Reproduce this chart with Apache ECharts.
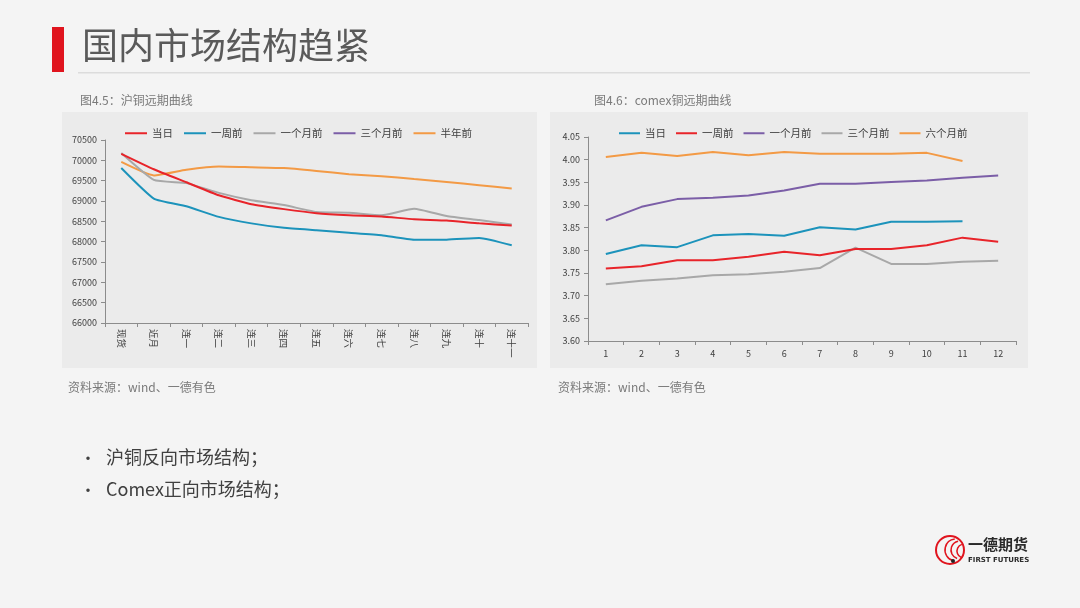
<!DOCTYPE html>
<html>
<head>
<meta charset="utf-8">
<script src="https://cdn.jsdelivr.net/npm/echarts@6/dist/echarts.min.js"></script>
<style>
  html, body { margin: 0; padding: 0; background: #f4f4f4; }
  #main { width: 1080px; height: 608px; }
</style>
</head>
<body>
<div id="main"></div>
<script>
// 沪铜远期曲线
var shCats = ['现货', '近月', '连一', '连二', '连三', '连四', '连五', '连六', '连七', '连八', '连九', '连十', '连十一'];
var shToday = [70160, 69780, 69460, 69140, 68920, 68800, 68700, 68650, 68620, 68550, 68520, 68450, 68400];
var shWeek = [69810, 69060, 68870, 68610, 68450, 68340, 68280, 68220, 68160, 68050, 68050, 68090, 67910];
var shMonth = [70180, 69520, 69440, 69200, 69020, 68900, 68730, 68710, 68650, 68810, 68630, 68530, 68420];
var shQuarter = [];
var shHalf = [69960, 69630, 69770, 69850, 69830, 69810, 69740, 69660, 69610, 69540, 69470, 69390, 69310];

// comex铜远期曲线
var cmCats = ['1', '2', '3', '4', '5', '6', '7', '8', '9', '10', '11', '12'];
var cmToday = [3.792, 3.811, 3.807, 3.833, 3.836, 3.832, 3.851, 3.846, 3.863, 3.863, 3.864];
var cmWeek = [3.760, 3.765, 3.778, 3.778, 3.786, 3.797, 3.789, 3.803, 3.803, 3.811, 3.828, 3.819];
var cmMonth = [3.866, 3.896, 3.913, 3.916, 3.921, 3.932, 3.947, 3.947, 3.951, 3.954, 3.960, 3.965];
var cmQuarter = [3.725, 3.733, 3.738, 3.745, 3.747, 3.753, 3.761, 3.806, 3.770, 3.770, 3.775, 3.777];
var cmHalf = [4.006, 4.015, 4.008, 4.017, 4.010, 4.017, 4.013, 4.013, 4.013, 4.015, 3.997];

var RED = '#e8242a', BLUE = '#1c93bb', GRAY = '#a8a8a8', PURPLE = '#7b5ea7', ORANGE = '#f39a45';
var FONT = '"Microsoft YaHei", "Noto Sans CJK SC", sans-serif';

var myChart = echarts.init(document.getElementById('main'));

function line(name, data, color, gi, smooth) {
    return {
        name: name,
        type: 'line',
        xAxisIndex: gi,
        yAxisIndex: gi,
        data: data,
        smooth: smooth,
        symbol: 'none',
        lineStyle: { color: color, width: 2 },
        itemStyle: { color: color },
        z: 3
    };
}

var axisLine = { show: true, lineStyle: { color: '#8c8c8c', width: 1 } };
var axisTick = { show: true, length: 4, lineStyle: { color: '#8c8c8c' } };

myChart.setOption({
    backgroundColor: '#f4f4f4',
    animation: false,
    textStyle: { fontFamily: FONT },
    graphic: [
        // 标题
        { type: 'rect', shape: { x: 52, y: 27, width: 12, height: 45 }, style: { fill: '#e0141e' } },
        { type: 'text', left: 82, top: 27, style: { text: '国内市场结构趋紧', font: '36px ' + FONT, fill: '#5a5a5a' } },
        { type: 'rect', shape: { x: 78, y: 72, width: 952, height: 1.5 }, style: { fill: '#dcdcdc' } },
        // 图表背景
        { type: 'rect', z: -10, shape: { x: 62, y: 112, width: 475, height: 256 }, style: { fill: '#ebebeb' } },
        { type: 'rect', z: -10, shape: { x: 550, y: 112, width: 478, height: 256 }, style: { fill: '#ebebeb' } },
        { type: 'text', left: 80, top: 94, style: { text: '图4.5：沪铜远期曲线', font: '12px ' + FONT, fill: '#7a7a7a' } },
        { type: 'text', left: 594, top: 94, style: { text: '图4.6：comex铜远期曲线', font: '12px ' + FONT, fill: '#7a7a7a' } },
        { type: 'text', left: 68, top: 381, style: { text: '资料来源：wind、一德有色', font: '12px ' + FONT, fill: '#7a7a7a' } },
        { type: 'text', left: 558, top: 381, style: { text: '资料来源：wind、一德有色', font: '12px ' + FONT, fill: '#7a7a7a' } },
        // 要点
        { type: 'text', left: 80, top: 450, style: { text: '•', font: '16px ' + FONT, fill: '#404040' } },
        { type: 'text', left: 106, top: 448, style: { text: '沪铜反向市场结构；', font: '18px ' + FONT, fill: '#404040' } },
        { type: 'text', left: 80, top: 482, style: { text: '•', font: '16px ' + FONT, fill: '#404040' } },
        { type: 'text', left: 106, top: 480, style: { text: 'Comex正向市场结构；', font: '18px ' + FONT, fill: '#404040' } },
        // logo
        { type: 'circle', shape: { cx: 950, cy: 550, r: 14 }, style: { fill: 'none', stroke: '#e0141e', lineWidth: 2 } },
        { type: 'arc', shape: { cx: 956, cy: 550, r: 11, startAngle: 1.8, endAngle: 4.6 }, style: { fill: 'none', stroke: '#e0141e', lineWidth: 1.5 } },
        { type: 'arc', shape: { cx: 960, cy: 550, r: 9, startAngle: 1.9, endAngle: 4.5 }, style: { fill: 'none', stroke: '#e0141e', lineWidth: 1.5 } },
        { type: 'arc', shape: { cx: 964, cy: 551, r: 7, startAngle: 2.0, endAngle: 4.4 }, style: { fill: 'none', stroke: '#e0141e', lineWidth: 1.5 } },
        { type: 'circle', shape: { cx: 953, cy: 561, r: 2 }, style: { fill: '#222' } },
        { type: 'text', left: 968, top: 537, style: { text: '一德期货', font: 'bold 15px ' + FONT, fill: '#2a2a2a' } },
        { type: 'text', left: 968, top: 557, style: { text: 'FIRST FUTURES', font: 'bold 7px "DejaVu Sans", sans-serif', fill: '#2a2a2a' } }
    ],
    legend: [
        {
            data: ['当日', '一周前', '一个月前', '三个月前', '半年前'],
            left: 120, top: 123,
            icon: 'rect', itemWidth: 22, itemHeight: 2, itemGap: 11,
            textStyle: { fontSize: 10.5, color: '#404040' }
        },
        {
            data: ['当日 ', '一周前 ', '一个月前 ', '三个月前 ', '六个月前'],
            left: 614, top: 123,
            icon: 'rect', itemWidth: 21, itemHeight: 2, itemGap: 10,
            textStyle: { fontSize: 10.5, color: '#404040' },
            formatter: function (n) { return n.trim(); }
        }
    ],
    grid: [
        { left: 105, top: 140, right: 552, bottom: 285 },
        { left: 588, top: 137, right: 64, bottom: 267 }
    ],
    xAxis: [
        {
            type: 'category', gridIndex: 0, data: shCats,
            axisLine: axisLine, axisTick: axisTick,
            axisLabel: { rotate: -90, fontSize: 9.5, color: '#404040', margin: 6 }
        },
        {
            type: 'category', gridIndex: 1, data: cmCats,
            axisLine: axisLine, axisTick: axisTick,
            axisLabel: { fontSize: 9, color: '#404040', margin: 8 }
        }
    ],
    yAxis: [
        {
            type: 'value', gridIndex: 0, min: 66000, max: 70500, interval: 500,
            axisLine: axisLine, axisTick: axisTick, splitLine: { show: false },
            axisLabel: { fontSize: 9, color: '#404040', margin: 8, formatter: function (v) { return String(v); } }
        },
        {
            type: 'value', gridIndex: 1, min: 3.6, max: 4.05, interval: 0.05,
            axisLine: axisLine, axisTick: axisTick, splitLine: { show: false },
            axisLabel: { fontSize: 9, color: '#404040', margin: 8, formatter: function (v) { return v.toFixed(2); } }
        }
    ],
    series: [
        line('半年前', shHalf, ORANGE, 0, 0.15),
        line('三个月前', shQuarter, PURPLE, 0, 0.15),
        line('一个月前', shMonth, GRAY, 0, 0.15),
        line('一周前', shWeek, BLUE, 0, 0.15),
        line('当日', shToday, RED, 0, 0.15),
        line('六个月前', cmHalf, ORANGE, 1, false),
        line('三个月前 ', cmQuarter, GRAY, 1, false),
        line('一个月前 ', cmMonth, PURPLE, 1, false),
        line('一周前 ', cmWeek, RED, 1, false),
        line('当日 ', cmToday, BLUE, 1, false)
    ]
});
</script>
</body>
</html>
